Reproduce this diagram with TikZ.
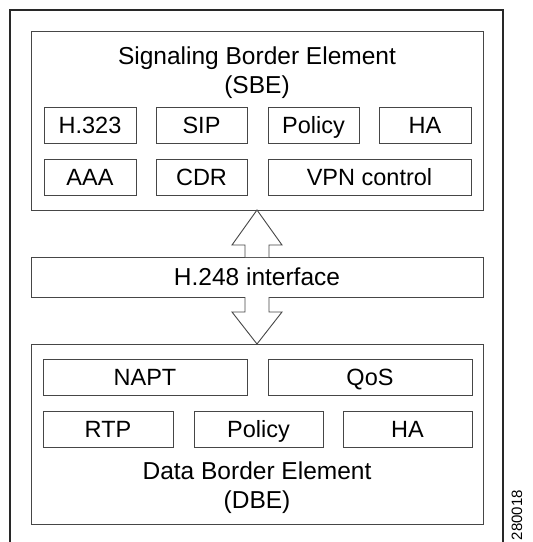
\documentclass[tikz,border=0pt]{standalone}
\usepackage{fontspec}
\setmainfont{Liberation Sans}
\usepackage{tikz}
\usetikzlibrary{positioning}

\tikzset{
  frameline/.style={draw={rgb,255:red,40;green,40;blue,40}, line width=1.8pt},
  groupbox/.style={draw={rgb,255:red,70;green,70;blue,70}, line width=0.9pt, inner sep=0pt, outer sep=0pt, minimum width=452pt},
  itembox/.style={draw={rgb,255:red,70;green,70;blue,70}, line width=0.9pt, inner sep=0pt, outer sep=0pt, minimum height=36pt, text height=17pt, text depth=0pt, font=\fontsize{23.5}{28}\selectfont},
  titletext/.style={align=center, inner sep=0pt, font=\fontsize{24.5}{29}\selectfont},
  fatarrow/.style={draw={rgb,255:red,70;green,70;blue,70}, line width=0.9pt, fill=white, line join=miter}
}

\begin{document}
\begin{tikzpicture}[x=1pt,y=1pt,yscale=-1,xscale=1]
\useasboundingbox (0,0) rectangle (533,542);

%Shape: Outer frame (open at the bottom)
\draw [frameline] (10,548) -- (10,10) -- (503,10) -- (503,548);

%Shape: Rectangle -- signaling element
\node [groupbox, minimum height=179pt] (sbe) at (257,120.5) {};
% Text Node
\node [titletext] (sbetitle) at (257,72.5) {Signaling Border Element\\(SBE)};

%Shape: Rectangle -- first row
\node [itembox, minimum width=92pt] (h323) at (90,125) {H.323};
\node [itembox, minimum width=91pt] (sip) at (201.5,125) {SIP};
\node [itembox, minimum width=91pt] (spolicy) at (313.5,125) {Policy};
\node [itembox, minimum width=92pt] (sha) at (425,125) {HA};
%Shape: Rectangle -- second row
\node [itembox, minimum width=92pt] (aaa) at (90,177) {AAA};
\node [itembox, minimum width=91pt] (cdr) at (201.5,177) {CDR};
\node [itembox, minimum width=203pt] (vpn) at (369.5,177) {VPN control};

%Shape: Rectangle -- interface
\node [groupbox, minimum height=40pt, titletext, text height=17.5pt, text depth=0pt] (ifc) at (257,277) {H.248 interface};

%Shape: Rectangle -- data element
\node [groupbox, minimum height=180pt] (dbe) at (257,434) {};
% Text Node
\node [titletext] (dbetitle) at (257,488) {Data Border Element\\(DBE)};

%Shape: Rectangle -- first row
\node [itembox, minimum width=204pt] (napt) at (145,377) {NAPT};
\node [itembox, minimum width=204pt] (qos) at (370,377) {QoS};
%Shape: Rectangle -- second row
\node [itembox, minimum width=130pt] (rtp) at (108,429) {RTP};
\node [itembox, minimum width=129pt] (dpolicy) at (258.5,429) {Policy};
\node [itembox, minimum width=129pt] (dha) at (407.5,429) {HA};

%Shape: Block arrow up
\draw [fatarrow] (ifc.north) ++(-12,0) -- ++(0,-12) -- ++(-13,0) -- (sbe.south) -- ++(25,35) -- ++(-13,0) -- ++(0,12);
%Shape: Block arrow down
\draw [fatarrow] (ifc.south) ++(-12,0) -- ++(0,15) -- ++(-13,0) -- (dbe.north) -- ++(25,-32) -- ++(-13,0) -- ++(0,-15);

% Text Node
\node [anchor=east, rotate=90, inner sep=0pt, font=\fontsize{15}{17}\selectfont] (tag) at (517,490) {280018};

\end{tikzpicture}
\end{document}
